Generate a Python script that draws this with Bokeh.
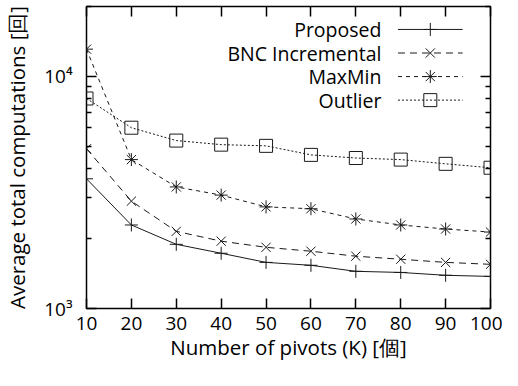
import math
from bokeh.plotting import figure
from bokeh.models import (LinearAxis, LogAxis, Range1d, FixedTicker, Label, Arrow)
from bokeh.embed import file_html
from bokeh.resources import INLINE

pivots = [10, 20, 30, 40, 50, 60, 70, 80, 90, 100]
proposed = [3620, 2290, 1890, 1730, 1580, 1535, 1446, 1430, 1390, 1375]
bnc = [4880, 2900, 2150, 1950, 1835, 1765, 1680, 1630, 1580, 1550]
maxmin = [13100, 4380, 3340, 3080, 2740, 2690, 2430, 2290, 2200, 2135]
outlier = [8030, 6010, 5290, 5080, 5020, 4590, 4450, 4380, 4200, 4040]

series_names = ["Proposed", "BNC Incremental", "MaxMin", "Outlier"]
x_ticks = [10, 20, 30, 40, 50, 60, 70, 80, 90, 100]
y_major = [1000, 10000]
y_minor = [2000, 3000, 4000, 5000, 6000, 7000, 8000, 9000, 20000]
y_tick_labels = {1000: "10³", 10000: "10⁴"}

FONT = "Open Sans"
COL = "#1a1a1a"

x0, x1 = 10, 100
y0, y1 = 1000, 20000

p = figure(width=502, height=370, output_backend="svg",
           toolbar_location=None,
           y_axis_type="log", x_range=Range1d(x0, x1), y_range=Range1d(y0, y1),
           min_border_left=83, min_border_right=12, min_border_top=6,
           min_border_bottom=62)
p.grid.visible = False
p.outline_line_color = "black"
p.outline_line_width = 1.5
p.background_fill_color = "white"
p.border_fill_color = "white"

def style_axis(ax):
    ax.axis_line_color = None
    ax.major_tick_in = 10
    ax.major_tick_out = 0
    ax.minor_tick_in = 5
    ax.minor_tick_out = 0
    ax.major_tick_line_color = "black"
    ax.minor_tick_line_color = "black"
    ax.major_tick_line_width = 1.5
    ax.minor_tick_line_width = 1.5
    ax.major_label_text_font = FONT
    ax.major_label_text_font_size = "19px"
    ax.major_label_text_color = "black"
    ax.axis_label_text_font = FONT
    ax.axis_label_text_font_size = "20.5px"
    ax.axis_label_text_font_style = "normal"
    ax.axis_label_text_color = "black"

xa = p.xaxis[0]
xa.ticker = FixedTicker(ticks=x_ticks)
style_axis(xa)
xa.major_label_standoff = 8
xa.axis_label = "Number of pivots (K) [個]"
xa.axis_label_standoff = 0

ya = p.yaxis[0]
ya.ticker = FixedTicker(ticks=y_major, minor_ticks=y_minor)
ya.major_label_overrides = y_tick_labels
style_axis(ya)
ya.major_label_standoff = 14
ya.axis_label = "Average total computations [回]"
ya.axis_label_standoff = 10

top = LinearAxis(ticker=FixedTicker(ticks=x_ticks))
style_axis(top)
top.major_label_overrides = {t: "" for t in x_ticks}
top.major_label_standoff = 0
p.add_layout(top, "above")
right = LogAxis(ticker=FixedTicker(ticks=y_major, minor_ticks=y_minor))
style_axis(right)
right.major_label_overrides = {t: "" for t in y_major}
right.major_label_standoff = 0
p.add_layout(right, "right")

styles = [
    dict(dash="solid", marker="cross"),
    dict(dash="7 5", marker="x"),
    dict(dash="4 4", marker="asterisk"),
    dict(dash="2 2", marker="square"),
]
data = [proposed, bnc, maxmin, outlier]

for vals, st in zip(data, styles):
    p.line(pivots, vals, line_color=COL, line_width=1, line_dash=st["dash"])
    p.scatter(pivots, vals, marker=st["marker"], size=13, line_color=COL,
              fill_color=None, line_width=1)

def fx(f):
    return x0 + f * (x1 - x0)

def fy(f):
    return 10 ** (math.log10(y0) + f * (math.log10(y1) - math.log10(y0)))

leg_rows = [0.924, 0.846, 0.768, 0.690]
for name, st, r in zip(series_names, styles, leg_rows):
    p.add_layout(Label(x=fx(0.730), y=fy(r), text=name, text_align="right",
                       text_baseline="middle", text_font=FONT,
                       text_font_size="19.5px", text_color="black"))
    p.add_layout(Arrow(x_start=fx(0.771), y_start=fy(r), x_end=fx(0.931),
                       y_end=fy(r), end=None, start=None, line_color=COL,
                       line_width=1, line_dash=st["dash"]))
    p.scatter([fx(0.851)], [fy(r)], marker=st["marker"], size=13,
              line_color=COL, fill_color=None, line_width=1)

open("out.html", "w").write(file_html(p, INLINE))
